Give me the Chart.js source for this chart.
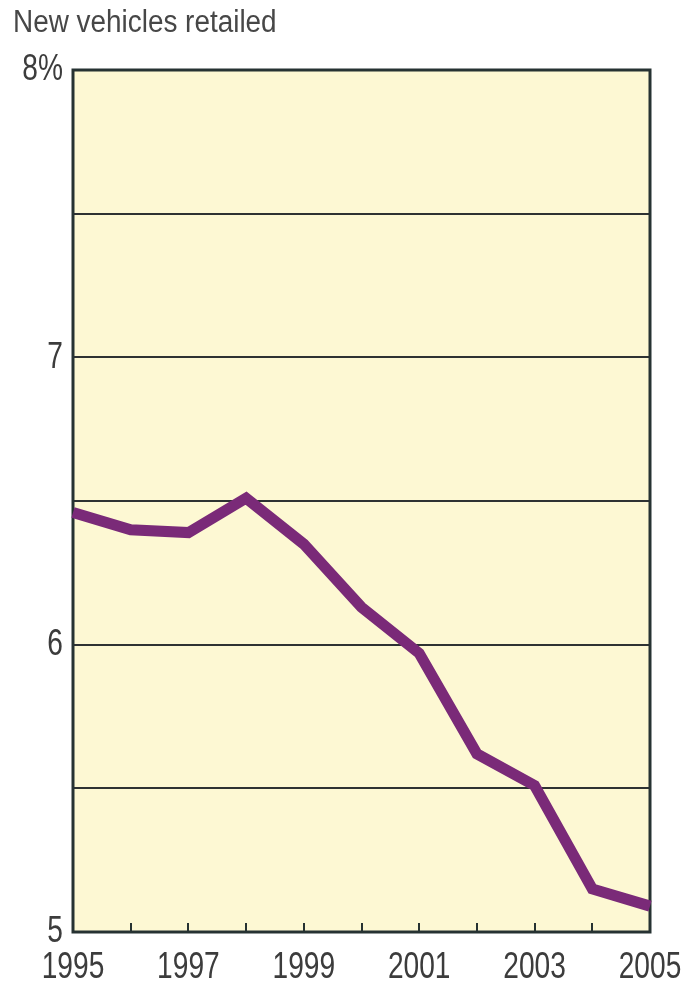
<!DOCTYPE html>
<html><head><meta charset="utf-8">
<script src="https://cdn.jsdelivr.net/npm/chart.js@4"></script>
<style>
html,body{margin:0;padding:0;background:#fff;}
#wrap{position:relative;width:683px;height:986px;}
#title{position:absolute;left:13px;top:4px;font:31px 'Liberation Sans',Arial,sans-serif;color:#474747;white-space:nowrap;transform:scaleX(0.9);transform-origin:0 0;}
canvas{position:absolute;left:0;top:0;}
</style></head><body>
<div id="wrap"><canvas id="c" width="683" height="986"></canvas><div id="title">New vehicles retailed</div></div>
<script>
const years = ['1995','1996','1997','1998','1999','2000','2001','2002','2003','2004','2005'];
const shareValues = [6.46, 6.40, 6.39, 6.51, 6.35, 6.13, 5.97, 5.62, 5.51, 5.15, 5.09];
const labeledYears = ['1995','1997','1999','2001','2003','2005'];
const yTickLabels = {5:'5', 6:'6', 7:'7', 8:'8%'};

const FONT = "'Liberation Sans',Arial,sans-serif";
const CONDENSE = 0.76;

// emulate a condensed typeface: text is still drawn as real text with fillText
const canvas = document.getElementById('c');
const ctx2d = canvas.getContext('2d');
const origFill = ctx2d.fillText.bind(ctx2d);
ctx2d.fillText = function (t, x, y, mw) {
  const w = this.measureText(t).width * CONDENSE;
  return origFill(t, x, y, mw !== undefined ? Math.min(mw, w) : w);
};

const frame = {
  id: 'frame',
  beforeDraw(chart) {
    const {ctx, chartArea: a} = chart;
    ctx.save();
    ctx.fillStyle = '#fdf8d3';
    ctx.fillRect(a.left, a.top, a.right - a.left, a.bottom - a.top);
    ctx.restore();
  },
  beforeDatasetsDraw(chart) {
    const {ctx, chartArea: a} = chart;
    const xs = chart.scales.x;
    ctx.save();
    ctx.strokeStyle = '#263232';
    ctx.lineWidth = 2;
    ctx.beginPath();
    for (let i = 1; i < years.length - 1; i++) {
      const px = Math.round(xs.getPixelForValue(i));
      ctx.moveTo(px, a.bottom);
      ctx.lineTo(px, a.bottom - 9);
    }
    ctx.stroke();
    ctx.lineWidth = 3;
    ctx.strokeRect(a.left, a.top, a.right - a.left, a.bottom - a.top);
    ctx.restore();
  }
};

new Chart(canvas, {
  type: 'line',
  data: {
    labels: years,
    datasets: [{
      data: shareValues,
      borderColor: '#7a2a78',
      borderWidth: 11,
      pointRadius: 0,
      tension: 0,
      borderJoinStyle: 'miter',
      borderCapStyle: 'butt',
      clip: false
    }]
  },
  options: {
    responsive: false,
    devicePixelRatio: 1,
    animation: false,
    layout: {padding: {top: 70, right: 33, left: 0, bottom: 0}},
    plugins: {legend: {display: false}, tooltip: {enabled: false}},
    scales: {
      x: {
        offset: false,
        grid: {display: false, drawTicks: false},
        border: {display: false},
        afterFit(s) { s.height = 54; s.paddingLeft = 0; s.paddingRight = 0; },
        ticks: {
          autoSkip: false, maxRotation: 0, minRotation: 0, padding: 14,
          color: '#3c3c3c',
          font: {family: FONT, size: 37},
          callback: (v, i) => labeledYears.includes(years[i]) ? years[i] : ''
        }
      },
      y: {
        min: 5, max: 8,
        grid: {color: '#2e3232', lineWidth: 2, drawTicks: false},
        border: {display: false},
        afterFit(s) { s.width = 73; s.paddingTop = 0; s.paddingBottom = 0; },
        ticks: {
          stepSize: 0.5, autoSkip: false, padding: 10,
          color: '#3c3c3c',
          font: {family: FONT, size: 37},
          callback: v => (yTickLabels[v] !== undefined ? yTickLabels[v] : '')
        }
      }
    }
  },
  plugins: [frame]
});
</script>
</body></html>
